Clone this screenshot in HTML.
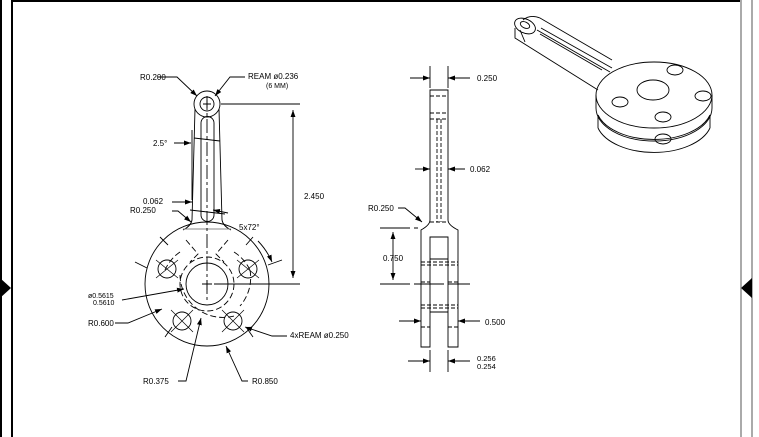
<!DOCTYPE html>
<html><head><meta charset="utf-8"><style>
html,body{margin:0;padding:0;background:#fff}
svg{display:block}
text{font-family:"Liberation Sans",sans-serif;font-size:8px;fill:#000}
</style></head><body>
<svg width="759" height="437" viewBox="0 0 759 437" xmlns="http://www.w3.org/2000/svg">
<defs>
<marker id="a" viewBox="0 0 10 10" refX="10" refY="5" markerWidth="7" markerHeight="7" orient="auto-start-reverse" markerUnits="userSpaceOnUse"><path d="M0,1.5 L10,5 L0,8.5z" fill="#000"/></marker>
</defs>
<rect x="0" y="0" width="2" height="437" fill="#000"/>
<rect x="11" y="0" width="2" height="437" fill="#000"/>
<rect x="11" y="0" width="730" height="2" fill="#000"/>
<rect x="740" y="0" width="2" height="437" fill="#aaa"/>
<rect x="751" y="0" width="2" height="437" fill="#aaa"/>
<path d="M0,278 L11,288 L0,298z" fill="#000"/>
<path d="M752,278 L741,288 L752,298z" fill="#000"/>

<g fill="none" stroke="#000" stroke-width="0.9">
<circle cx="207" cy="104" r="13"/>
<circle cx="207" cy="104" r="7"/>
<path d="M203,104h8M207,100v8"/>
<path d="M195,109 L192,220 Q191,226 183,230"/>
<path d="M219,109 L222,220 Q223,226 231,230"/>
<path d="M201,123 A6.5,6.5 0 0 1 214,123 L214,215 A6.5,6.5 0 0 1 201,215 Z"/>
<circle cx="207" cy="284" r="62"/>
<path d="M183,229 L231,229" stroke="#888"/>
<circle cx="207" cy="284" r="21"/>
<circle cx="207" cy="284" r="27" stroke-dasharray="6,3"/>
<path d="M180,275 A43,43 0 0 0 234,316" stroke-dasharray="6,3"/>
<path d="M234,252 A43,43 0 0 1 250,270" stroke-dasharray="6,3"/>
<path d="M180,252 A43,43 0 0 0 165,270" stroke-dasharray="6,3"/>
<path d="M250,270 A43,43 0 0 1 240,306" stroke-dasharray="6,3"/>
<path d="M186,240 L198,254 L190,262 M228,240 L216,254 L224,262" stroke-dasharray="6,3"/>
<path d="M207,290 V280 M202,284 H212 M214,284 H300" />
<path d="M207,96 V300" stroke-dasharray="14,3,3,3"/>
<circle cx="167" cy="269" r="9"/><circle cx="248" cy="269" r="9"/>
<circle cx="182" cy="321" r="9"/><circle cx="233" cy="321" r="9"/>
<path d="M156,260 L178,278 M178,260 L156,278 M237,260 L259,278 M259,260 L237,278 M171,310 L193,332 M193,310 L171,332 M222,310 L244,332 M244,310 L222,332" stroke-width="0.7"/>
<path d="M135,262 L147,268 M268,265 L282,260 M165,337 L172,327 M253,337 L246,327 M160,237 L168,245 M253,237 L246,245"/>
<path d="M221,104 H300"/>
<path d="M293,110 V278" marker-start="url(#a)" marker-end="url(#a)"/>
<path d="M158,77 H177 L197,96" marker-end="url(#a)"/>
<path d="M245,77 H230 L215,96" marker-end="url(#a)"/>
<path d="M174,143 H191" marker-end="url(#a)"/>
<path d="M194,138 L220,141"/>
<path d="M192,130 V200 M190,210 L225,214"/>
<path d="M172,202 H192" marker-end="url(#a)"/>
<path d="M172,211 H178 L191,222" marker-end="url(#a)"/>
<path d="M213,210 L228,213" marker-start="url(#a)"/>
<path d="M258,241 A70,70 0 0 1 272,262" marker-end="url(#a)"/>
<path d="M122,300 L184,289" marker-end="url(#a)"/>
<path d="M115,323 H128 L162,309" marker-end="url(#a)"/>
<path d="M287,336 H272 L245,327" marker-end="url(#a)"/>
<path d="M178,381 H186 L201,318" marker-end="url(#a)"/>
<path d="M248,381 H242 L226,346" marker-end="url(#a)"/>

<path d="M430,90 V220 Q430,225 421,230 V347 H430 V237 H448 V347 H458 V230 Q448,225 448,220 V90 Z"/>
<path d="M430,66 V88 M448,66 V88"/>
<path d="M430,96 H448 M430,113 H448 M430,119 H448 M437,119 V222 M441,119 V222 M430,222 H448" stroke-dasharray="4,2"/>
<path d="M421,262 H458 M421,265 H458 M421,282 H430 M448,282 H458 M421,305 H458 M421,308 H458 M421,327 H430 M448,327 H458" stroke-dasharray="4,2"/>
<path d="M430,259 H448 M430,312 H448"/>
<path d="M380,228 H418 M380,284 H470" stroke-dasharray="30,4"/>
<path d="M393,232 V280" marker-start="url(#a)" marker-end="url(#a)"/>
<path d="M410,78 H430" marker-end="url(#a)"/>
<path d="M470,78 H448" marker-end="url(#a)"/>
<path d="M415,169 H430" marker-end="url(#a)"/>
<path d="M465,169 H448" marker-end="url(#a)"/>
<path d="M398,208 H405 L422,222" marker-end="url(#a)"/>
<path d="M399,321 H421" marker-end="url(#a)"/>
<path d="M480,321 H458" marker-end="url(#a)"/>
<path d="M430,350 V372 M448,350 V372"/>
<path d="M408,361 H430" marker-end="url(#a)"/>
<path d="M470,361 H448" marker-end="url(#a)"/>

<path d="M523,20 Q530,14 540,18 L612,60 M515,28 L515,38 L598,90 M520,30 L525,42" />
<ellipse cx="525" cy="26" rx="11" ry="7" transform="rotate(25 525 26)"/>
<ellipse cx="525" cy="25" rx="5" ry="3" transform="rotate(25 525 25)"/>
<path d="M537,30 L610,72 M541,28 L612,68 M540,34 L602,70"/>
<ellipse cx="654" cy="95" rx="58" ry="33"/>
<path d="M596,95 V108 M712,95 V108 M598,115 V128 M710,115 V128"/>
<path d="M596,108 A58,33 0 0 0 712,108"/>
<path d="M598,115 A58,33 0 0 0 710,115"/>
<path d="M598,128 A58,33 0 0 0 710,128"/>
<ellipse cx="653" cy="90" rx="16" ry="10"/>
<ellipse cx="675" cy="70" rx="8" ry="5"/><ellipse cx="703" cy="96" rx="8" ry="5"/>
<ellipse cx="620" cy="102" rx="8" ry="5"/><ellipse cx="663" cy="117" rx="8" ry="5"/>
<ellipse cx="663" cy="139" rx="8" ry="5"/>
</g>

<text x="140" y="80">R0.200</text>
<text x="248" y="79">REAM ø0.236</text>
<text x="266" y="88" style="font-size:7px">(6 MM)</text>
<text x="153" y="146">2.5°</text>
<text x="304" y="199">2.450</text>
<text x="143" y="204">0.062</text>
<text x="130" y="213">R0.250</text>
<text x="239" y="230">5x72°</text>
<text x="88" y="298" style="font-size:7px">ø0.5615</text>
<text x="93" y="305" style="font-size:7px">0.5610</text>
<text x="88" y="326">R0.600</text>
<text x="290" y="338">4xREAM ø0.250</text>
<text x="143" y="384">R0.375</text>
<text x="252" y="384">R0.850</text>
<text x="477" y="81">0.250</text>
<text x="470" y="172">0.062</text>
<text x="368" y="211">R0.250</text>
<text x="383" y="261">0.750</text>
<text x="485" y="325">0.500</text>
<text x="477" y="361" style="font-size:7.5px">0.256</text>
<text x="477" y="369" style="font-size:7.5px">0.254</text>
</svg>
</body></html>
